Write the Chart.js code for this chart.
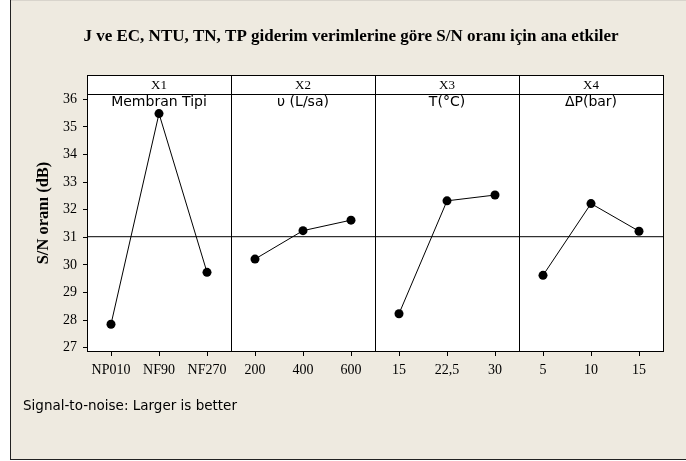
<!DOCTYPE html>
<html>
<head>
<meta charset="utf-8">
<script src="https://cdn.jsdelivr.net/npm/chart.js@4.4.1/dist/chart.umd.min.js"></script>
<style>
  html, body { margin: 0; padding: 0; background: #ffffff; }
  canvas { display: block; }
</style>
</head>
<body>
<canvas id="mainEffects" width="686" height="461"></canvas>
<script>
// Main effects data
const factorCodes = ['X1', 'X2', 'X3', 'X4'];
const factorNames = ['Membran Tipi', 'υ (L/sa)', 'T(°C)', 'ΔP(bar)'];
const levelsX1 = ['NP010', 'NF90', 'NF270'];
const levelsX2 = ['200', '400', '600'];
const levelsX3 = ['15', '22,5', '30'];
const levelsX4 = ['5', '10', '15'];
const snX1 = [27.85, 35.48, 29.73];
const snX2 = [30.21, 31.24, 31.62];
const snX3 = [28.23, 32.32, 32.53];
const snX4 = [29.62, 32.22, 31.22];
const overallMean = 31.02;
const yTicks = [27, 28, 29, 30, 31, 32, 33, 34, 35, 36];
const yMin = 26.88, yMax = 36.19;

const chartTitle = 'J ve EC, NTU, TN, TP giderim verimlerine göre S/N oranı için ana etkiler';
const yTitle = 'S/N oranı (dB)';
const footNote = 'Signal-to-noise: Larger is better';

const allLevels = [levelsX1, levelsX2, levelsX3, levelsX4];
const allSN = [snX1, snX2, snX3, snX4];
const perPanel = 3;
const nPanels = allLevels.length;
const flatLabels = allLevels.flat();

const serif = '"Liberation Serif", "Times New Roman", serif';
const sans = '"DejaVu Sans", Verdana, sans-serif';
const BG = '#eeeae0';
const STRIP_H = 19;

const datasets = allSN.map((vals, p) => ({
    data: vals.map((v, i) => ({ x: p * perPanel + i, y: v })),
    borderColor: '#000',
    borderWidth: 1,
    pointRadius: 4.5,
    pointBackgroundColor: '#000',
    pointBorderColor: '#000',
    pointBorderWidth: 0,
    tension: 0
}));
datasets.unshift({
    data: [{ x: -0.5, y: overallMean }, { x: nPanels * perPanel - 0.5, y: overallMean }],
    borderColor: '#000',
    borderWidth: 1,
    pointRadius: 0
});

const framePlugin = {
    id: 'frame',
    beforeDraw(chart) {
        const { ctx, chartArea: a } = chart;
        ctx.save();
        ctx.fillStyle = '#ffffff';
        ctx.fillRect(0, 0, chart.width, chart.height);
        ctx.fillStyle = BG;
        ctx.fillRect(11, 1, chart.width - 11, 458);
        ctx.fillStyle = '#d8d4cc';
        ctx.fillRect(11, 0, chart.width - 11, 1);
        ctx.fillStyle = '#222';
        ctx.fillRect(10, 0, 1, 460);
        ctx.fillRect(10, 459, chart.width - 10, 1);
        ctx.fillStyle = '#ffffff';
        ctx.fillRect(a.left, a.top - STRIP_H, a.right - a.left, a.bottom - a.top + STRIP_H);
        ctx.restore();
    },
    afterDraw(chart) {
        const { ctx, chartArea: a, scales } = chart;
        const x = scales.x;
        ctx.save();
        ctx.strokeStyle = '#000';
        ctx.lineWidth = 1;
        const top = a.top - STRIP_H;
        ctx.strokeRect(Math.round(a.left) + 0.5, Math.round(top) + 0.5,
            Math.round(a.right - a.left), Math.round(a.bottom - top));
        ctx.beginPath();
        ctx.moveTo(a.left, Math.round(a.top) + 0.5);
        ctx.lineTo(a.right, Math.round(a.top) + 0.5);
        for (let p = 1; p < nPanels; p++) {
            const px = Math.round(x.getPixelForValue(p * perPanel - 0.5)) + 0.5;
            ctx.moveTo(px, top);
            ctx.lineTo(px, a.bottom);
        }
        ctx.stroke();

        ctx.fillStyle = '#000';
        ctx.textAlign = 'center';
        ctx.textBaseline = 'middle';
        for (let p = 0; p < nPanels; p++) {
            const cx = x.getPixelForValue(p * perPanel + (perPanel - 1) / 2);
            ctx.font = '13px ' + serif;
            ctx.fillText(factorCodes[p], cx, top + STRIP_H / 2 + 1);
            ctx.font = '14px ' + sans;
            ctx.fillText(factorNames[p], cx, a.top + 8);
        }

        ctx.font = 'bold 17px ' + serif;
        ctx.fillText(chartTitle, 351, 37);

        ctx.save();
        ctx.translate(44, (top + a.bottom) / 2);
        ctx.rotate(-Math.PI / 2);
        ctx.font = 'bold 16.5px ' + serif;
        ctx.fillText(yTitle, 0, 0);
        ctx.restore();

        ctx.textAlign = 'left';
        ctx.font = '13.5px ' + sans;
        ctx.fillText(footNote, 23, 406);
        ctx.restore();
    }
};

new Chart(document.getElementById('mainEffects').getContext('2d'), {
    type: 'line',
    data: { datasets },
    options: {
        responsive: false,
        animation: false,
        layout: { padding: { left: 0, right: 23, top: 94, bottom: 0 } },
        plugins: {
            legend: { display: false },
            tooltip: { enabled: false },
            title: { display: false }
        },
        scales: {
            x: {
                type: 'linear',
                min: -0.5,
                max: nPanels * perPanel - 0.5,
                afterBuildTicks: s => { s.ticks = flatLabels.map((_, i) => ({ value: i })); },
                afterFit: s => { s.height = 110; },
                ticks: {
                    callback: (v) => flatLabels[v],
                    color: '#000',
                    font: { family: serif, size: 14 },
                    padding: 6,
                    maxRotation: 0,
                    autoSkip: false
                },
                grid: { drawOnChartArea: false, drawTicks: true, tickLength: 5, color: '#000' },
                border: { display: false }
            },
            y: {
                min: yMin,
                max: yMax,
                afterBuildTicks: s => { s.ticks = yTicks.map(v => ({ value: v })); },
                afterFit: s => { s.width = 87; },
                ticks: {
                    color: '#000',
                    font: { family: serif, size: 14 },
                    padding: 6
                },
                grid: { drawOnChartArea: false, drawTicks: true, tickLength: 4, color: '#000' },
                border: { display: false }
            }
        }
    },
    plugins: [framePlugin]
});
</script>
</body>
</html>
